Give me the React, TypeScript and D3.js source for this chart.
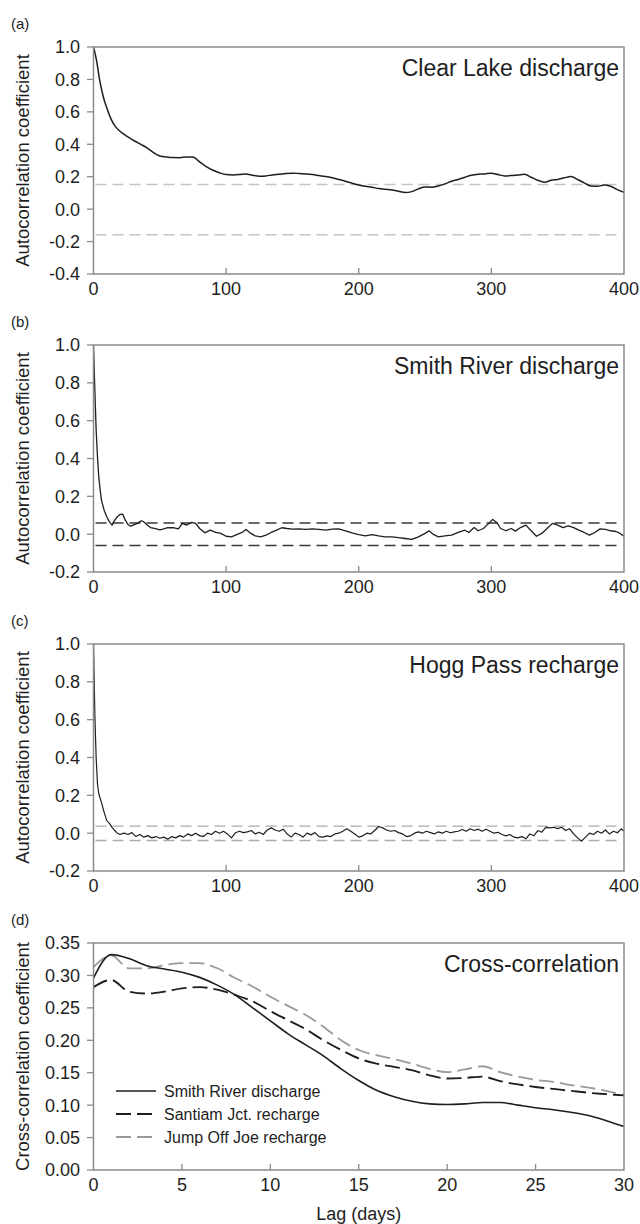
import React from "react";
import * as d3 from "d3";

// ---------- DATA ----------
// (a) Clear Lake discharge autocorrelation
const lagsA = [0, 2, 5, 8, 10, 13, 16, 20, 25, 30, 35, 40, 45, 50, 55, 60, 65, 70, 75, 80, 85, 90, 95, 100, 105, 110, 115, 120, 125, 130, 135, 140, 145, 150, 155, 160, 165, 170, 175, 180, 185, 190, 195, 200, 205, 210, 215, 220, 225, 230, 235, 240, 245, 250, 255, 260, 265, 270, 275, 280, 285, 290, 295, 300, 305, 310, 315, 320, 325, 330, 335, 340, 345, 350, 355, 360, 365, 370, 375, 380, 385, 390, 395, 400];
const acfA = [1.0, 0.93, 0.78, 0.675, 0.625, 0.56, 0.515, 0.48, 0.45, 0.425, 0.402, 0.38, 0.35, 0.328, 0.322, 0.318, 0.317, 0.322, 0.321, 0.292, 0.262, 0.24, 0.224, 0.213, 0.211, 0.213, 0.217, 0.209, 0.203, 0.205, 0.211, 0.215, 0.22, 0.222, 0.22, 0.217, 0.213, 0.207, 0.201, 0.193, 0.183, 0.172, 0.16, 0.149, 0.141, 0.135, 0.127, 0.122, 0.118, 0.11, 0.102, 0.108, 0.125, 0.137, 0.135, 0.143, 0.156, 0.172, 0.183, 0.197, 0.209, 0.215, 0.217, 0.222, 0.213, 0.205, 0.207, 0.211, 0.215, 0.197, 0.178, 0.166, 0.178, 0.183, 0.193, 0.201, 0.183, 0.162, 0.143, 0.141, 0.149, 0.141, 0.12, 0.104];
const confA = [0.152, -0.158];

// (b) Smith River discharge autocorrelation
const lagsB = [0, 1, 2, 3, 4, 5, 6, 8, 10, 12, 14, 16, 18, 20, 22, 24, 26, 28, 30, 33, 36, 38, 40, 43, 46, 50, 53, 56, 60, 64, 67, 70, 74, 77, 80, 84, 88, 92, 96, 100, 104, 108, 112, 115, 118, 122, 126, 130, 134, 138, 142, 146, 150, 155, 160, 165, 170, 175, 180, 185, 190, 195, 200, 205, 210, 215, 220, 225, 230, 235, 240, 245, 250, 253, 256, 260, 265, 270, 275, 280, 283, 287, 290, 294, 298, 301, 304, 307, 311, 315, 318, 322, 326, 330, 334, 338, 342, 346, 350, 354, 358, 362, 366, 370, 374, 378, 382, 386, 390, 394, 397, 400];
const acfB = [1.0, 0.765, 0.55, 0.41, 0.3, 0.234, 0.18, 0.127, 0.092, 0.065, 0.048, 0.074, 0.092, 0.104, 0.106, 0.074, 0.051, 0.042, 0.048, 0.057, 0.071, 0.065, 0.051, 0.035, 0.03, 0.023, 0.028, 0.034, 0.035, 0.028, 0.057, 0.048, 0.062, 0.057, 0.03, 0.007, 0.021, 0.009, 0.004, -0.011, -0.014, -0.002, 0.009, 0.025, 0.007, -0.009, -0.014, -0.005, 0.009, 0.021, 0.034, 0.03, 0.027, 0.028, 0.025, 0.028, 0.025, 0.021, 0.027, 0.028, 0.018, 0.007, -0.002, -0.009, -0.002, -0.009, -0.014, -0.014, -0.018, -0.023, -0.028, -0.014, 0.004, 0.018, 0.0, -0.014, -0.009, -0.005, 0.009, 0.021, 0.009, 0.035, 0.018, 0.03, 0.057, 0.078, 0.062, 0.03, 0.018, 0.03, 0.016, 0.035, 0.048, 0.018, -0.011, 0.004, 0.03, 0.057, 0.048, 0.035, 0.044, 0.035, 0.021, 0.009, -0.005, 0.009, 0.028, 0.025, 0.018, 0.014, 0.004, -0.011];
const confB = [0.059, -0.06];

// (c) Hogg Pass recharge autocorrelation
const lagsC = [0, 1, 2, 3, 4, 6, 8, 10, 12, 14, 16, 18, 20, 23, 26, 29, 32, 35, 38, 41, 44, 47, 50, 53, 56, 59, 62, 65, 68, 71, 74, 77, 80, 83, 86, 89, 92, 95, 98, 101, 104, 107, 110, 113, 116, 119, 122, 125, 128, 131, 134, 137, 140, 143, 146, 149, 152, 155, 158, 161, 164, 167, 170, 173, 176, 179, 182, 185, 188, 191, 194, 197, 200, 203, 206, 209, 212, 215, 218, 221, 224, 227, 230, 233, 236, 239, 242, 245, 248, 251, 254, 257, 260, 263, 266, 269, 272, 275, 278, 281, 284, 287, 290, 293, 296, 299, 302, 305, 308, 311, 314, 317, 320, 323, 326, 329, 332, 335, 338, 341, 344, 347, 350, 353, 356, 359, 362, 365, 368, 371, 374, 377, 380, 383, 386, 389, 392, 395, 398, 400];
const acfC = [1.0, 0.63, 0.4, 0.26, 0.207, 0.163, 0.111, 0.066, 0.052, 0.031, 0.014, 0.0, -0.007, 0.0, -0.007, 0.003, -0.018, -0.007, -0.021, -0.013, -0.025, -0.018, -0.027, -0.021, -0.032, -0.018, -0.025, -0.013, -0.021, -0.004, -0.013, 0.0, -0.013, -0.018, 0.0, -0.007, 0.01, 0.0, 0.01, -0.004, -0.025, 0.002, 0.01, 0.003, 0.007, 0.014, -0.004, 0.005, -0.007, 0.017, 0.028, 0.017, 0.01, 0.021, -0.004, -0.021, 0.0, -0.007, -0.021, 0.0, -0.009, 0.003, -0.018, -0.021, -0.014, -0.018, -0.004, 0.0, 0.01, 0.023, 0.01, -0.004, -0.021, -0.014, 0.0, -0.004, 0.014, 0.035, 0.028, 0.017, 0.01, 0.014, 0.003, -0.004, -0.018, -0.014, 0.0, 0.007, 0.0, 0.01, 0.003, -0.004, 0.007, 0.0, 0.01, 0.002, 0.007, 0.01, 0.019, 0.01, 0.023, 0.014, 0.021, 0.01, 0.021, 0.01, 0.0, 0.005, -0.007, -0.014, -0.007, -0.021, -0.025, -0.018, -0.03, -0.004, -0.014, 0.014, 0.005, 0.031, 0.028, 0.031, 0.024, 0.031, 0.014, 0.023, -0.004, -0.025, -0.042, -0.021, 0.0, -0.007, 0.01, 0.0, 0.017, -0.004, 0.01, 0.002, 0.023, 0.01];
const confC = [0.037, -0.039];

// (d) Cross-correlation
const lagsD = [0, 1, 2, 3, 4, 5, 6, 7, 8, 9, 10, 11, 12, 13, 14, 15, 16, 17, 18, 19, 20, 21, 22, 23, 24, 25, 26, 27, 28, 29, 30];
const smithRiver = [0.296, 0.332, 0.326, 0.315, 0.31, 0.305, 0.297, 0.285, 0.27, 0.25, 0.23, 0.21, 0.193, 0.176, 0.156, 0.138, 0.123, 0.113, 0.106, 0.102, 0.101, 0.102, 0.104, 0.104, 0.1, 0.096, 0.093, 0.089, 0.084, 0.076, 0.067];
const santiamJct = [0.282, 0.293, 0.275, 0.272, 0.275, 0.28, 0.282, 0.278, 0.27, 0.26, 0.245, 0.231, 0.217, 0.2, 0.185, 0.172, 0.164, 0.159, 0.154, 0.146, 0.141, 0.142, 0.144, 0.137, 0.132, 0.128, 0.125, 0.122, 0.119, 0.117, 0.115];
const jumpOffJoe = [0.313, 0.331, 0.311, 0.311, 0.316, 0.319, 0.319, 0.311, 0.296, 0.283, 0.267, 0.253, 0.239, 0.221, 0.2, 0.185, 0.177, 0.171, 0.164, 0.156, 0.151, 0.155, 0.16, 0.151, 0.144, 0.139, 0.136, 0.131, 0.127, 0.122, 0.115];
const seriesNames = ["Smith River discharge", "Santiam Jct. recharge", "Jump Off Joe recharge"];

const ticksLag400 = [0, 100, 200, 300, 400];
const ticksLag30 = [0, 5, 10, 15, 20, 25, 30];
const ticksA = [-0.4, -0.2, 0.0, 0.2, 0.4, 0.6, 0.8, 1.0];
const ticksBC = [-0.2, 0.0, 0.2, 0.4, 0.6, 0.8, 1.0];
const ticksD = [0, 0.05, 0.1, 0.15, 0.2, 0.25, 0.3, 0.35];

// ---------- LAYOUT ----------
const W = 640;
const H = 1224;
const X0 = 93.5;
const X1 = 624;
const PH = 227;
const FONT = "'Liberation Sans', Arial, Helvetica, sans-serif";
const FRAME = "#8a8a8a";
const INK = "#1e1e1e";

type Line = { x: number[]; y: number[]; color: string; width: number; dash?: string; curve: any };
type Dash = { y: number; color: string; dash: string; width: number };

function Panel(props: {
  top: number;
  letter: string;
  title: string;
  ytitle: string;
  xdomain: [number, number];
  xticks: number[];
  ydomain: [number, number];
  yticks: number[];
  yfmt: string;
  lines: Line[];
  dashes: Dash[];
  children?: any;
}) {
  const { top } = props;
  const bottom = top + PH;
  const x = d3.scaleLinear().domain(props.xdomain).range([X0, X1]);
  const y = d3.scaleLinear().domain(props.ydomain).range([bottom, top]);
  const fmt = d3.format(props.yfmt);
  const f = (v: number) => fmt(v).replace("\u2212", "-");
  return (
    <g>
      <text x={11} y={top - 18} fontSize={15} fill={INK} fontFamily={FONT}>
        {props.letter}
      </text>
      {props.dashes.map((d, i) => (
        <line key={"d" + i} x1={X0 + 2} x2={X1 - 2} y1={y(d.y)} y2={y(d.y)} stroke={d.color} strokeWidth={d.width} strokeDasharray={d.dash} />
      ))}
      {props.lines.map((l, i) => {
        const gen = d3
          .line<number>()
          .x((_, j) => x(l.x[j]))
          .y((v) => y(v))
          .curve(l.curve);
        return <path key={"l" + i} d={gen(l.y) || ""} fill="none" stroke={l.color} strokeWidth={l.width} strokeDasharray={l.dash} strokeLinejoin="round" />;
      })}
      <rect x={X0} y={top} width={X1 - X0} height={PH} fill="none" stroke={FRAME} strokeWidth={1.5} />
      {props.yticks.map((t) => (
        <g key={"y" + t}>
          <line x1={X0 - 6.5} x2={X0} y1={y(t)} y2={y(t)} stroke={FRAME} strokeWidth={1.3} />
          <text x={80} y={y(t)} dy="0.36em" textAnchor="end" fontSize={18} fill={INK} fontFamily={FONT}>
            {f(t)}
          </text>
        </g>
      ))}
      {props.xticks.map((t) => (
        <g key={"x" + t}>
          {t !== props.xdomain[0] && t !== props.xdomain[1] && (
            <line x1={x(t)} x2={x(t)} y1={bottom} y2={bottom - 6} stroke={FRAME} strokeWidth={1.3} />
          )}
          <text x={x(t)} y={bottom + 21} textAnchor="middle" fontSize={18} fill={INK} fontFamily={FONT}>
            {t}
          </text>
        </g>
      ))}
      <text
        transform={`translate(29,${(top + bottom) / 2}) rotate(-90)`}
        textAnchor="middle"
        fontSize={18.5}
        fill={INK}
        fontFamily={FONT}
      >
        {props.ytitle}
      </text>
      <text x={619} y={top + 29} textAnchor="end" fontSize={23} fill={INK} fontFamily={FONT}>
        {props.title}
      </text>
      {props.children}
    </g>
  );
}

export default function App() {
  React.useEffect(() => {
    document.body.style.margin = "0";
  }, []);
  const dLines: Line[] = [
    { x: lagsD, y: jumpOffJoe, color: "#9a9a9a", width: 1.8, dash: "15,6", curve: d3.curveMonotoneX },
    { x: lagsD, y: santiamJct, color: "#1e1e1e", width: 1.9, dash: "15,6", curve: d3.curveMonotoneX },
    { x: lagsD, y: smithRiver, color: "#1e1e1e", width: 1.6, curve: d3.curveMonotoneX },
  ];
  const legendStyles = [
    { color: "#1e1e1e", width: 1.6, dash: undefined as string | undefined },
    { color: "#1e1e1e", width: 1.9, dash: "15,6" },
    { color: "#9a9a9a", width: 1.8, dash: "15,6" },
  ];
  return (
    <svg width={W} height={H} style={{ position: "absolute", left: 0, top: 0, background: "#fff" }}>
      <rect x={0} y={0} width={W} height={H} fill="#fff" />
      <Panel
        top={47}
        letter="(a)"
        title="Clear Lake discharge"
        ytitle="Autocorrelation coefficient"
        xdomain={[0, 400]}
        xticks={ticksLag400}
        ydomain={[-0.4, 1.0]}
        yticks={ticksA}
        yfmt=".1f"
        dashes={confA.map((v) => ({ y: v, color: "#c4c4c4", dash: "11,6", width: 1.6 }))}
        lines={[{ x: lagsA, y: acfA, color: INK, width: 1.5, curve: d3.curveMonotoneX }]}
      />
      <Panel
        top={345}
        letter="(b)"
        title="Smith River discharge"
        ytitle="Autocorrelation coefficient"
        xdomain={[0, 400]}
        xticks={ticksLag400}
        ydomain={[-0.2, 1.0]}
        yticks={ticksBC}
        yfmt=".1f"
        dashes={confB.map((v) => ({ y: v, color: "#3a3a3a", dash: "11,6", width: 1.4 }))}
        lines={[{ x: lagsB, y: acfB, color: INK, width: 1.3, curve: d3.curveLinear }]}
      />
      <Panel
        top={644}
        letter="(c)"
        title="Hogg Pass recharge"
        ytitle="Autocorrelation coefficient"
        xdomain={[0, 400]}
        xticks={ticksLag400}
        ydomain={[-0.2, 1.0]}
        yticks={ticksBC}
        yfmt=".1f"
        dashes={confC.map((v) => ({ y: v, color: "#ababab", dash: "11,6", width: 1.4 }))}
        lines={[{ x: lagsC, y: acfC, color: INK, width: 1.2, curve: d3.curveLinear }]}
      />
      <Panel
        top={943}
        letter="(d)"
        title="Cross-correlation"
        ytitle="Cross-correlation coefficient"
        xdomain={[0, 30]}
        xticks={ticksLag30}
        ydomain={[0, 0.35]}
        yticks={ticksD}
        yfmt=".2f"
        dashes={[]}
        lines={dLines}
      >
        {seriesNames.map((n, i) => {
          const yy = 1091 + i * 23;
          const s = legendStyles[i];
          return (
            <g key={n}>
              <line x1={116} x2={156} y1={yy} y2={yy} stroke={s.color} strokeWidth={s.width} strokeDasharray={s.dash} />
              <text x={164} y={yy} dy="0.36em" fontSize={16} fill={INK} fontFamily={FONT}>
                {n}
              </text>
            </g>
          );
        })}
      </Panel>
      <text x={(X0 + X1) / 2} y={1220} textAnchor="middle" fontSize={18} fill={INK} fontFamily={FONT}>
        Lag (days)
      </text>
    </svg>
  );
}
